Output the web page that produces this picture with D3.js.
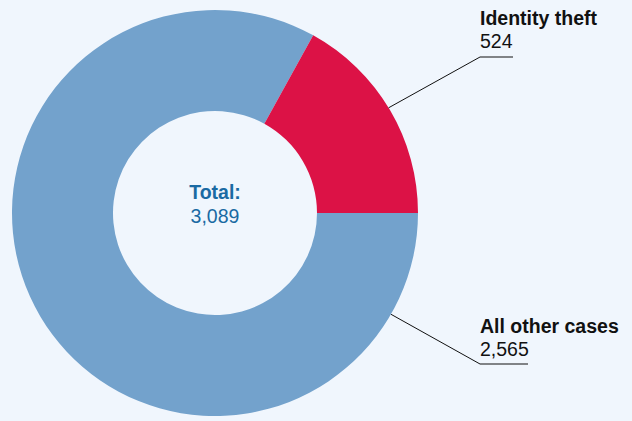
<!DOCTYPE html>
<html><head><meta charset="utf-8">
<script src="https://cdn.jsdelivr.net/npm/d3@7"></script>
<style>html,body{margin:0;padding:0;background:#f0f6fd;}svg{display:block;}</style>
</head><body>
<script>
const categories = ["All other cases", "Identity theft"];
const values = [2565, 524];
const valueLabels = ["2,565", "524"];
const totalLabel = "3,089";
const colors = ["#73a2cc", "#dc1246"];

const W = 632, H = 421;
const cx = 215, cy = 213, R = 203, r = 102;
const FONT = "'Liberation Sans', Arial, sans-serif";
const FS = 19.5;
const svg = d3.select("body").append("svg").attr("width", W).attr("height", H);
svg.append("rect").attr("width", W).attr("height", H).attr("fill", "#f0f6fd");

const pie = d3.pie().sort(null).startAngle(Math.PI/2).endAngle(Math.PI/2 + 2*Math.PI);
const arcs = pie(values);
const arc = d3.arc().innerRadius(r).outerRadius(R);
const g = svg.append("g").attr("transform", `translate(${cx},${cy})`);
g.selectAll("path").data(arcs).enter().append("path")
  .attr("d", arc).attr("fill", (d,i) => colors[i]);

g.append("text").attr("text-anchor","middle").attr("y",-14)
  .attr("font-family",FONT).attr("font-size",FS).attr("font-weight","bold")
  .attr("fill","#1a6aa3").text("Total:");
g.append("text").attr("text-anchor","middle").attr("y",10)
  .attr("font-family",FONT).attr("font-size",FS)
  .attr("fill","#1a6aa3").text(totalLabel);

// leader lines and labels
const labelPos = [
  {x: 480, y1: 333, y2: 356, lineY: 364, lineEnd: 528, ang: 2.093},
  {x: 480, y1: 25, y2: 48, lineY: 57, lineEnd: 513, ang: 1.026}
];
arcs.forEach((d,i) => {
  const p = labelPos[i];
  const sx = cx + R * Math.sin(p.ang), sy = cy - R * Math.cos(p.ang);
  svg.append("polyline")
    .attr("points", `${sx},${sy} ${p.x},${p.lineY} ${p.lineEnd},${p.lineY}`)
    .attr("fill","none").attr("stroke","#111").attr("stroke-width",1);
  svg.append("text").attr("x",p.x).attr("y",p.y1)
    .attr("font-family",FONT).attr("font-size",FS).attr("font-weight","bold")
    .attr("fill","#111").text(categories[i]);
  svg.append("text").attr("x",p.x).attr("y",p.y2)
    .attr("font-family",FONT).attr("font-size",FS)
    .attr("fill","#111").text(valueLabels[i]);
});
</script>
</body></html>
